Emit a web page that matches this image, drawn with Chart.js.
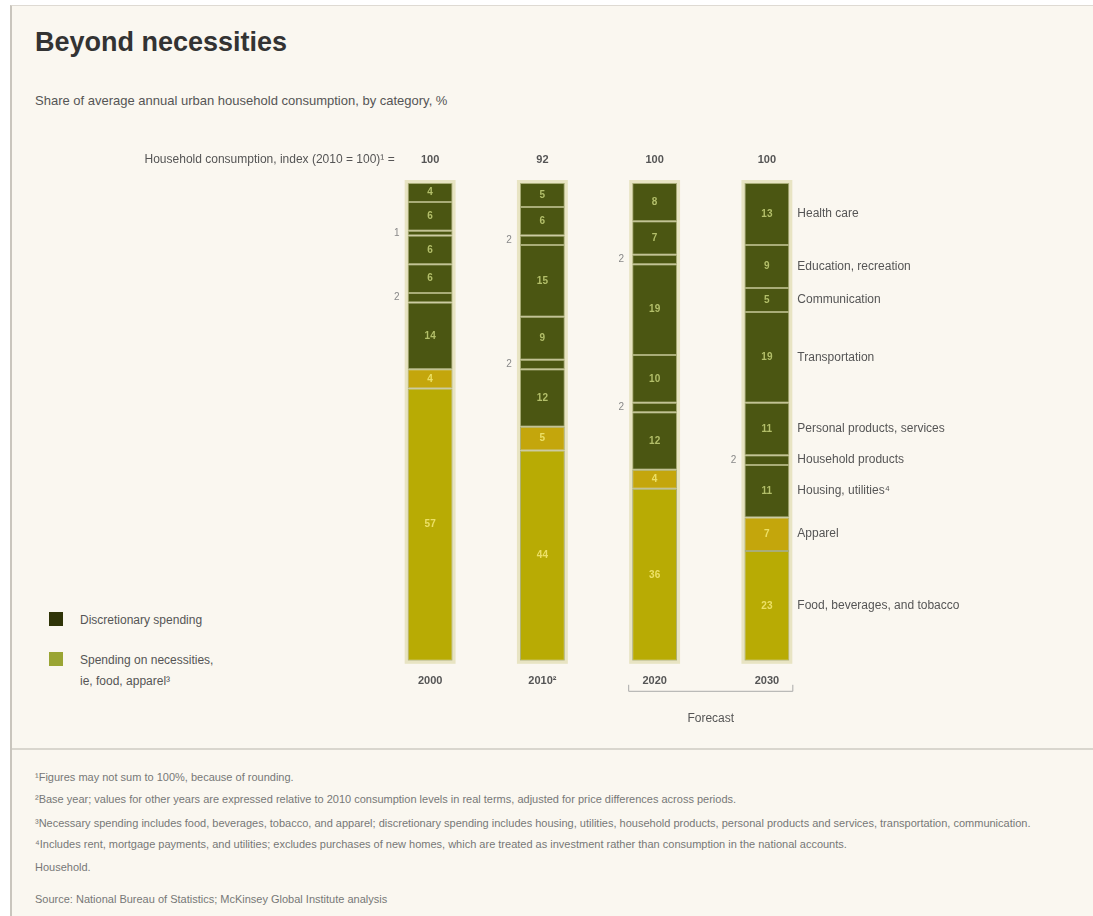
<!DOCTYPE html>
<html><head><meta charset="utf-8">
<script src="https://cdn.jsdelivr.net/npm/chart.js@4.4.1/dist/chart.umd.min.js"></script>
<style>
html,body{margin:0;padding:0;background:#fff;width:1093px;height:916px;overflow:hidden;}
#frame{position:absolute;left:10px;top:5px;width:1083px;height:911px;background:#faf7f0;border-left:2px solid #c9c5bd;border-top:1px solid #dedad3;}
#sep{position:absolute;left:12px;top:748px;width:1081px;height:2px;background:#d9d6ce;}
canvas{position:absolute;left:0;top:0;}
.t{position:absolute;font-family:"Liberation Sans",Arial,sans-serif;white-space:nowrap;color:#555;}
#title{left:35px;top:27px;font-size:27px;font-weight:bold;color:#333;}
#sub{left:35px;top:93px;font-size:13px;color:#555;}
.fn{left:35px;font-size:11px;color:#777;}
.lg{font-size:12px;color:#555;line-height:21px;}
.sq{position:absolute;width:14px;height:14px;}
</style></head>
<body>
<div id="frame"></div>
<div id="sep"></div>
<div class="t" id="title">Beyond necessities</div>
<div class="t" id="sub">Share of average annual urban household consumption, by category, %</div>
<div class="sq" style="left:49px;top:612px;background:#2f3408;"></div>
<div class="t lg" style="left:80px;top:610px;">Discretionary spending</div>
<div class="sq" style="left:49px;top:652px;background:#9aa534;"></div>
<div class="t lg" style="left:80px;top:650px;">Spending on necessities,<br>ie, food, apparel³</div>
<div class="t fn" style="top:771px;">¹Figures may not sum to 100%, because of rounding.</div>
<div class="t fn" style="top:793px;">²Base year; values for other years are expressed relative to 2010 consumption levels in real terms, adjusted for price differences across periods.</div>
<div class="t fn" style="top:817px;">³Necessary spending includes food, beverages, tobacco, and apparel; discretionary spending includes housing, utilities, household products, personal products and services, transportation, communication.</div>
<div class="t fn" style="top:838px;">⁴Includes rent, mortgage payments, and utilities; excludes purchases of new homes, which are treated as investment rather than consumption in the national accounts.</div>
<div class="t fn" style="top:861px;">Household.</div>
<div class="t fn" style="top:893px;">Source: National Bureau of Statistics; McKinsey Global Institute analysis</div>
<canvas id="c" width="1093" height="916"></canvas>
<script>
const categories = ['2000', '2010²', '2020', '2030'];
const totals = ['100', '92', '100', '100'];
const totalsLabel = 'Household consumption, index (2010 = 100)¹ =';
const forecastLabel = 'Forecast';
const segmentNames = ['Food, beverages, and tobacco', 'Apparel', 'Housing, utilities⁴', 'Household products', 'Personal products, services', 'Transportation', 'Communication', 'Education, recreation', 'Health care'];
const food = [57, 44, 36, 23];
const apparel = [4, 5, 4, 7];
const housing = [14, 12, 12, 11];
const household = [2, 2, 2, 2];
const personal = [6, 9, 10, 11];
const transportation = [6, 15, 19, 19];
const communication = [1, 2, 2, 5];
const education = [6, 6, 7, 9];
const health = [4, 5, 8, 13];

const seriesList = [food, apparel, housing, household, personal, transportation, communication, education, health];
const necessity = [true, true, false, false, false, false, false, false, false];
const colors = ['#b8ab04', '#c4a60c', '#4b5612', '#4b5612', '#4b5612', '#4b5612', '#4b5612', '#4b5612', '#4b5612'];

const datasets = seriesList.map((d, i) => ({
  label: segmentNames[i], data: d, backgroundColor: colors[i],
  borderColor: '#a9ad78', borderWidth: 1, borderSkipped: false,
  categoryPercentage: 1, barPercentage: 0.4
}));

const FONT = '"Liberation Sans", Arial, sans-serif';

const labelPlugin = {
  id: 'labels',
  beforeDatasetsDraw(chart) {
    const ctx = chart.ctx;
    const n = chart.data.datasets.length;
    const bottomMeta = chart.getDatasetMeta(0), topMeta = chart.getDatasetMeta(n - 1);
    ctx.save();
    ctx.fillStyle = '#e8e4c3';
    bottomMeta.data.forEach((b, j) => {
      const t = topMeta.data[j];
      const w = b.width;
      ctx.fillRect(b.x - w / 2 - 3, t.y - 3, w + 6, b.base - t.y + 6);
    });
    ctx.restore();
  },
  afterDatasetsDraw(chart) {
    const ctx = chart.ctx;
    ctx.save();
    ctx.textBaseline = 'middle';
    chart.data.datasets.forEach((ds, i) => {
      const meta = chart.getDatasetMeta(i);
      meta.data.forEach((el, j) => {
        const v = ds.data[j];
        const cy = (el.y + el.base) / 2;
        if (v > 2) {
          ctx.font = 'bold 10px ' + FONT;
          ctx.textAlign = 'center';
          ctx.fillStyle = necessity[i] ? '#ece066' : '#b3bf6a';
          ctx.fillText(String(v), el.x, cy);
        } else {
          ctx.font = '10px ' + FONT;
          ctx.textAlign = 'right';
          ctx.fillStyle = '#888';
          ctx.fillText(String(v), el.x - el.width / 2 - 8, cy);
        }
      });
    });
    const last = categories.length - 1;
    ctx.font = '12px ' + FONT;
    ctx.textAlign = 'left';
    ctx.fillStyle = '#555';
    chart.data.datasets.forEach((ds, i) => {
      const el = chart.getDatasetMeta(i).data[last];
      ctx.fillText(ds.label, el.x + el.width / 2 + 8, (el.y + el.base) / 2);
    });
    const area = chart.chartArea;
    const m0 = chart.getDatasetMeta(0);
    ctx.font = 'bold 11px ' + FONT;
    ctx.textAlign = 'center';
    ctx.fillStyle = '#555';
    m0.data.forEach((el, j) => ctx.fillText(totals[j], el.x, area.top - 23));
    ctx.font = '12px ' + FONT;
    ctx.textAlign = 'right';
    const first = m0.data[0];
    ctx.fillText(totalsLabel, first.x - first.width / 2 - 13, area.top - 23);
    const b2 = m0.data[2], b3 = m0.data[3];
    const xs = b2.x - b2.width / 2 - 4, xe = b3.x + b3.width / 2 + 4;
    const yb = area.bottom + 30;
    ctx.strokeStyle = '#aaa';
    ctx.lineWidth = 1;
    ctx.beginPath();
    ctx.moveTo(xs + 0.5, yb - 6); ctx.lineTo(xs + 0.5, yb + 0.5); ctx.lineTo(xe - 0.5, yb + 0.5); ctx.lineTo(xe - 0.5, yb - 6);
    ctx.stroke();
    ctx.font = '12px ' + FONT;
    ctx.textAlign = 'center';
    ctx.fillStyle = '#555';
    ctx.fillText(forecastLabel, (xs + xe) / 2, yb + 28);
    ctx.restore();
  }
};

new Chart(document.getElementById('c'), {
  type: 'bar',
  data: { labels: categories, datasets },
  options: {
    responsive: false, animation: false,
    layout: { padding: { left: 374, right: 270, top: 183, bottom: 214 } },
    plugins: { legend: { display: false }, tooltip: { enabled: false } },
    scales: {
      x: { stacked: true, grid: { display: false, drawTicks: false }, border: { display: false },
           ticks: { color: '#555', font: { family: FONT, size: 11, weight: 'bold' }, padding: 14 } },
      y: { stacked: true, display: false, min: 0, max: 100 }
    }
  },
  plugins: [labelPlugin]
});
</script>
</body></html>
